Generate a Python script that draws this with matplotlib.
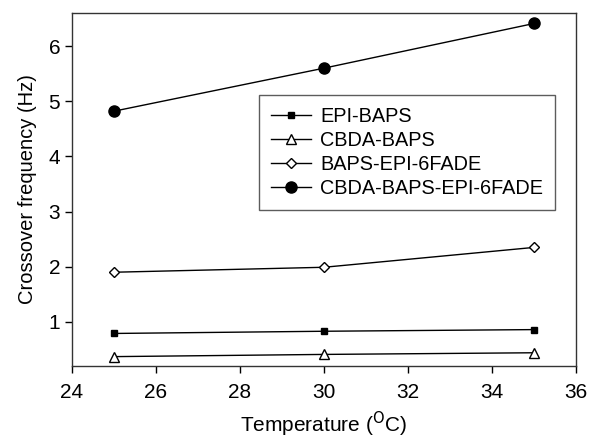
import matplotlib
matplotlib.use("Agg")
import matplotlib.pyplot as plt

plt.rcParams['font.family'] = ['Liberation Sans', 'DejaVu Sans']

# Данные
temp = [25, 30, 35]
epi_baps = [0.79, 0.83, 0.86]
cbda_baps = [0.37, 0.41, 0.44]
baps_epi_6fade = [1.90, 1.99, 2.35]
cbda_baps_epi_6fade = [4.82, 5.60, 6.41]

fig = plt.figure(figsize=(5.89, 4.43), dpi=100)
ax = fig.add_axes([72 / 589, 1 - 366 / 443, 504 / 589, 353 / 443])

ax.plot(temp, epi_baps, color='k', lw=1, marker='s', ms=5, mfc='k', mec='k', label='EPI-BAPS')
ax.plot(temp, cbda_baps, color='k', lw=1, marker='^', ms=7.5, mfc='white', mec='k', label='CBDA-BAPS')
ax.plot(temp, baps_epi_6fade, color='k', lw=1, marker='D', ms=5.5, mfc='white', mec='k', label='BAPS-EPI-6FADE')
ax.plot(temp, cbda_baps_epi_6fade, color='k', lw=1, marker='o', ms=8, mfc='k', mec='k', label='CBDA-BAPS-EPI-6FADE')

ax.set_xlim(24, 36)
ax.set_ylim(0.2, 6.6)
ax.set_xticks([24, 26, 28, 30, 32, 34, 36])
ax.set_yticks([1, 2, 3, 4, 5, 6])
ax.tick_params(axis='both', direction='out', length=5, width=1, labelsize=15, colors='k')
ax.tick_params(axis='x', pad=7)
for s in ax.spines.values():
    s.set_linewidth(1)
    s.set_color('#333333')

ax.set_xlabel('Temperature ($^{\\rm O}$C)', fontsize=15, labelpad=6)
ax.set_ylabel('Crossover frequency (Hz)', fontsize=14.5, labelpad=8)

leg = ax.legend(loc='upper left', bbox_to_anchor=((259 - 72) / 504, (366 - 95) / 353),
                fontsize=14.3, frameon=True, fancybox=False, edgecolor='#333333',
                handlelength=2.0, labelspacing=0.24, borderpad=0.62, handletextpad=0.45,
                borderaxespad=0)
leg.get_frame().set_linewidth(1)

fig.savefig('out.png', dpi=100)
